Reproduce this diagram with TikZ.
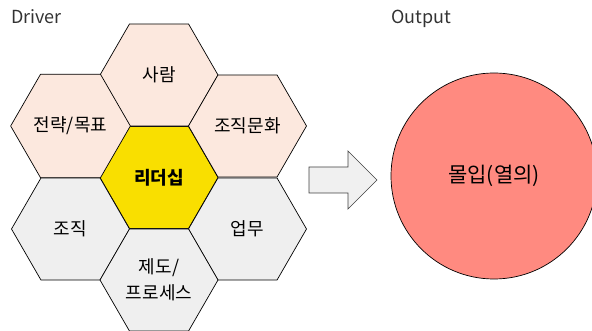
\documentclass[tikz,border=0pt]{standalone}
\usepackage{fontspec}
\setmainfont{Noto Sans CJK KR}
\usetikzlibrary{shapes.geometric}
\definecolor{peach}{HTML}{FCE8DE}
\definecolor{lgray}{HTML}{EFEFEF}
\definecolor{gold}{HTML}{F9DF00}
\definecolor{salmon}{HTML}{FF8A80}
\definecolor{arrowfill}{HTML}{F0F0F0}
\tikzset{
  hexbox/.style={regular polygon, regular polygon sides=6, minimum size=118pt, inner sep=0pt, draw=black, line width=0.7pt, font=\fontsize{18}{26}\selectfont, align=center},
  warm/.style={hexbox, fill=peach},
  cool/.style={hexbox, fill=lgray},
  core/.style={hexbox, fill=gold, font=\fontsize{18}{26}\selectfont\bfseries},
  heading/.style={font=\fontsize{18}{20}\selectfont, text=black!80, inner sep=0pt, anchor=west}
}
\begin{document}
\begin{tikzpicture}[x=1pt,y=-1pt]
\useasboundingbox (0,0) rectangle (592,331);
\clip (0,0) rectangle (592,331);
\node[heading] (drv) at (11,17) {Driver};
\node[heading] (out) at (391,19) {Output};
\node[core] (lead) at (159,177.5) {리더십};
\node[warm] (ppl) at (159,75) {사람};
\node[warm] (strat) at (70.5,126) {전략/목표};
\node[warm] (cult) at (247.5,126) {조직문화};
\node[cool] (org) at (70.5,229) {조직};
\node[cool] (work) at (247.5,229) {업무};
\node[cool] (sys) at (159,280) {제도/\\프로세스};
\draw[fill=arrowfill, draw=black!75, line width=0.7pt]
  (309,167) -- (348,167) -- (348,151) -- (377,180) -- (348,209) -- (348,193) -- (309,193) -- cycle;
\node[circle, minimum size=206pt, inner sep=0pt, fill=salmon, draw=black, line width=0.7pt, font=\fontsize{21}{24}\selectfont] (flow) at (494,176) {몰입(열의)};
\end{tikzpicture}
\end{document}
